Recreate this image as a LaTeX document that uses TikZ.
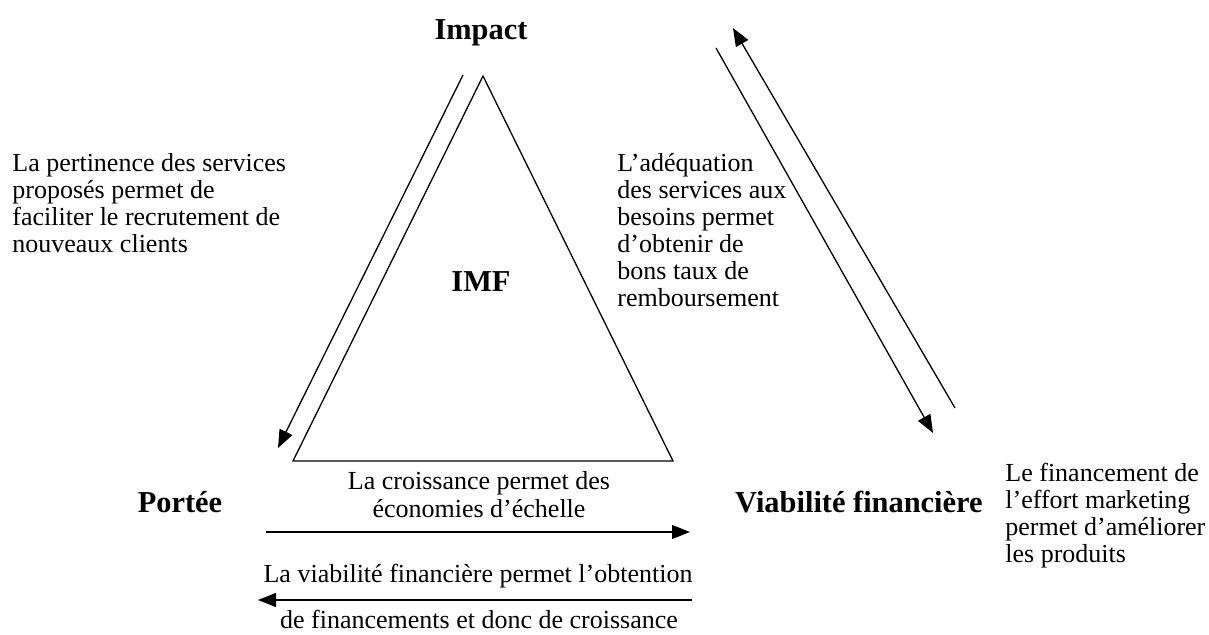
\documentclass[tikz,border=0pt]{standalone}
\usepackage{fontspec}
\setmainfont{Liberation Serif}
\usetikzlibrary{arrows.meta}
\tikzset{
  body/.style={inner sep=0pt, font=\fontsize{13pt}{13.5pt}\selectfont},
  head/.style={inner sep=0pt, font=\fontsize{15.2pt}{16pt}\selectfont\bfseries},
  link/.style={line width=0.65pt, -{Triangle[length=9pt,width=7pt]}},
  edge/.style={line width=0.65pt, line join=miter}
}
\begin{document}
\begin{tikzpicture}[x=0.5pt,y=-0.5pt]
\useasboundingbox (0,0) rectangle (1209,635);
% triangle
\coordinate (top) at (483,76);
\coordinate (bl) at (293,461);
\coordinate (br) at (673,461);
\draw[edge] (top) -- (bl) -- (br) -- cycle;
% labels
\node[head, anchor=base] (impact) at (481,40) {Impact};
\node[head, anchor=base] (portee) at (180,512) {Portée};
\node[head, anchor=base east] (viab) at (983,512) {Viabilité financière};
\node[head, anchor=base] (imf) at (481,292) {IMF};
% text blocks
\node[body, anchor=base west] (t1) at (12,172) {\begin{tabular}[t]{@{}l@{}}La pertinence des services\\proposés permet de\\faciliter le recrutement de\\nouveaux clients\end{tabular}};
\node[body, anchor=base west] (t2) at (617,172) {\begin{tabular}[t]{@{}l@{}}L’adéquation\\des services aux\\besoins permet\\d’obtenir de\\bons taux de\\remboursement\end{tabular}};
\node[body, anchor=base west] (t3) at (1005,481) {\begin{tabular}[t]{@{}l@{}}Le financement de\\l’effort marketing\\permet d’améliorer\\les produits\end{tabular}};
\node[body, anchor=base] (t4) at (479,490) {\begin{tabular}[t]{@{}c@{}}La croissance permet des\\économies d’échelle\end{tabular}};
\node[body, anchor=base] (t5) at (478,582) {La viabilité financière permet l’obtention};
\node[body, anchor=base] (t6) at (479,628) {de financements et donc de croissance};
% arrows
\coordinate (a1s) at (463,75);
\coordinate (a1e) at (278,448);
\coordinate (a2s) at (716,48);
\coordinate (a2e) at (933,433);
\coordinate (a3s) at (955,408);
\coordinate (a3e) at (733,28);
\coordinate (a4s) at (266,532);
\coordinate (a4e) at (690,532);
\coordinate (a5s) at (692,600);
\coordinate (a5e) at (258,600);
\draw[link] (a1s) -- (a1e);
\draw[link] (a2s) -- (a2e);
\draw[link] (a3s) -- (a3e);
\draw[link] (a4s) -- (a4e);
\draw[link] (a5s) -- (a5e);
\end{tikzpicture}
\end{document}
